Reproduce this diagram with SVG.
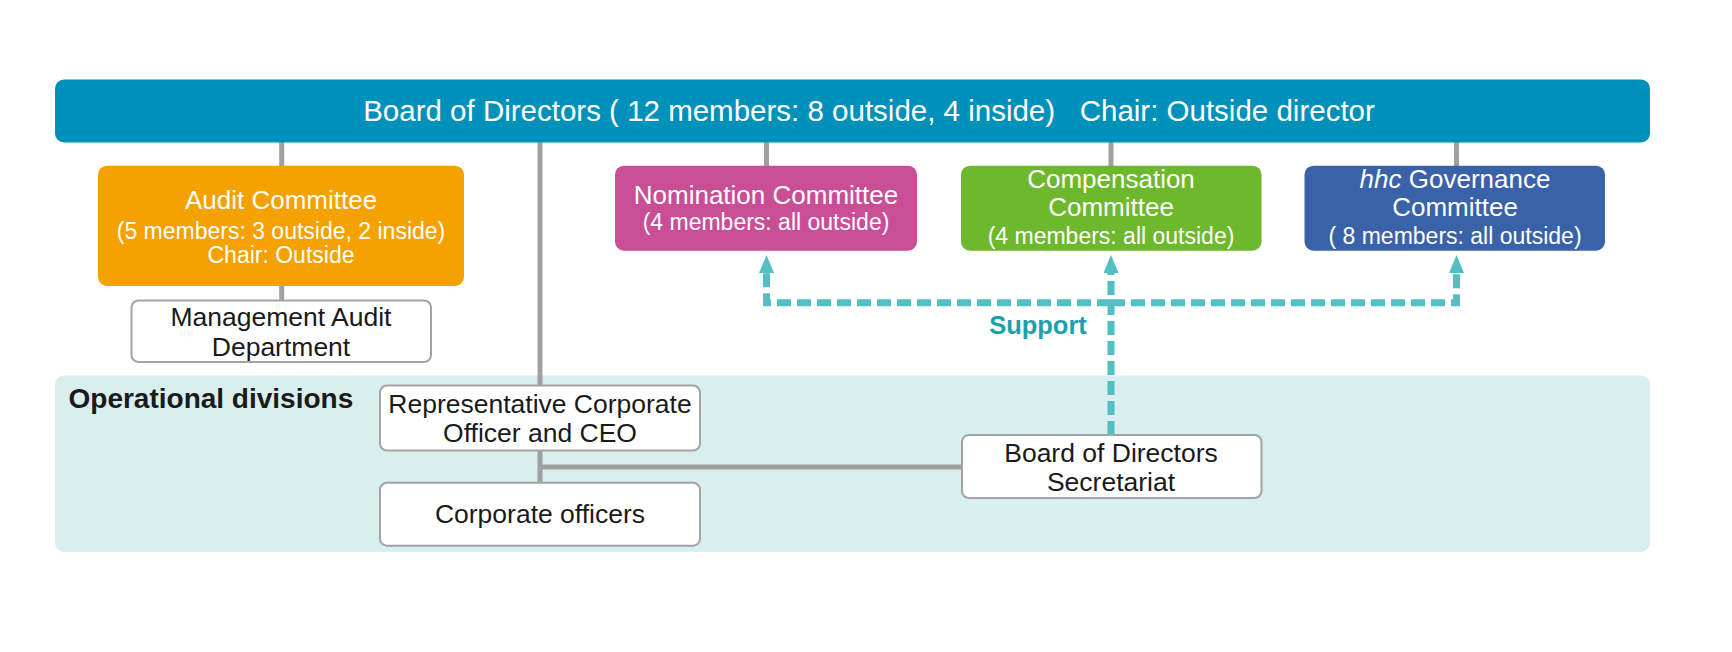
<svg xmlns="http://www.w3.org/2000/svg" width="1732" height="652" viewBox="0 0 1732 652">
<style>
text{font-family:"Liberation Sans",Arial,sans-serif;text-anchor:middle}
.w{fill:#fff}
.k{fill:#1a1a1a;font-size:26.5px}
.t{font-size:26px}
.s{font-size:23px}
.box{fill:#fff;stroke:#a3a3a3;stroke-width:2}
.g{stroke:#a0a0a0;stroke-width:5;fill:none}
.d{stroke:#52bfc4;stroke-width:7;fill:none;stroke-dasharray:14 6}
</style>
<defs>
<marker id="ah" viewBox="0 0 10 10" refX="5" refY="5" markerUnits="userSpaceOnUse" markerWidth="18" markerHeight="15" orient="auto" preserveAspectRatio="none">
<path d="M0,0 L10,5 L0,10 Z" fill="#52bfc4"/>
</marker>
</defs>
<rect x="55" y="375.5" width="1595" height="176.5" rx="9" fill="#d9eeef"/>
<g id="connectors">
<path class="g" d="M281.7,142 V166 M281.7,286 V301 M766.5,142 V166 M1111,142 V166 M1456.5,142 V166 M540,142 V386 M540,450 V483 M540,467 H962"/>
<path class="d" d="M1111,302.7 H766.5 V264" marker-end="url(#ah)"/>
<path class="d" d="M1111,302.7 H1456.5 V264" marker-end="url(#ah)"/>
<path class="d" d="M1111,435 V264" marker-end="url(#ah)"/>
<text x="1038" y="334" style="font-size:25.5px;font-weight:bold;fill:#1ba1ac">Support</text>
</g>
<g id="board">
<rect x="55" y="79.5" width="1595" height="63" rx="9" fill="#0091bb"/>
<text class="w" x="869" y="120.5" style="font-size:29.5px" xml:space="preserve">Board of Directors ( 12 members: 8 outside, 4 inside)   Chair: Outside director</text>
</g>
<g id="audit">
<rect x="98" y="165.7" width="366" height="120.3" rx="9" fill="#f5a100"/>
<text class="w t" x="281" y="209">Audit Committee</text>
<text class="w s" x="281" y="239">(5 members: 3 outside, 2 inside)</text>
<text class="w s" x="281" y="263">Chair: Outside</text>
</g>
<g id="mgmt-audit">
<rect class="box" x="131.5" y="300.5" width="299.5" height="61.5" rx="7"/>
<text class="k" x="281" y="326">Management Audit</text>
<text class="k" x="281" y="356">Department</text>
</g>
<g id="nomination">
<rect x="615" y="165.7" width="302" height="85" rx="9" fill="#c94e96"/>
<text class="w t" x="766" y="203.5">Nomination Committee</text>
<text class="w s" x="766" y="230">(4 members: all outside)</text>
</g>
<g id="compensation">
<rect x="961" y="165.7" width="300.5" height="85" rx="9" fill="#6db82d"/>
<text class="w t" x="1111" y="188">Compensation</text>
<text class="w t" x="1111" y="215.5">Committee</text>
<text class="w s" x="1111" y="244">(4 members: all outside)</text>
</g>
<g id="hhc">
<rect x="1304.5" y="165.7" width="300.5" height="85" rx="9" fill="#3a62a8"/>
<text class="w t" x="1455" y="188"><tspan font-style="italic">hhc</tspan> Governance</text>
<text class="w t" x="1455" y="215.5">Committee</text>
<text class="w s" x="1455" y="244">( 8 members: all outside)</text>
</g>
<g id="operational">
<text x="68.5" y="407.5" style="font-size:28px;font-weight:bold;fill:#1a1a1a;text-anchor:start">Operational divisions</text>
</g>
<g id="ceo">
<rect class="box" x="380" y="385.5" width="320" height="65" rx="7"/>
<text class="k" x="540" y="413">Representative Corporate</text>
<text class="k" x="540" y="442">Officer and CEO</text>
</g>
<g id="officers">
<rect class="box" x="380" y="482.7" width="320" height="63" rx="7"/>
<text class="k" x="540" y="523">Corporate officers</text>
</g>
<g id="secretariat">
<rect class="box" x="962" y="435" width="299.5" height="63" rx="7"/>
<text class="k" x="1111" y="462">Board of Directors</text>
<text class="k" x="1111" y="490.5">Secretariat</text>
</g>
</svg>
